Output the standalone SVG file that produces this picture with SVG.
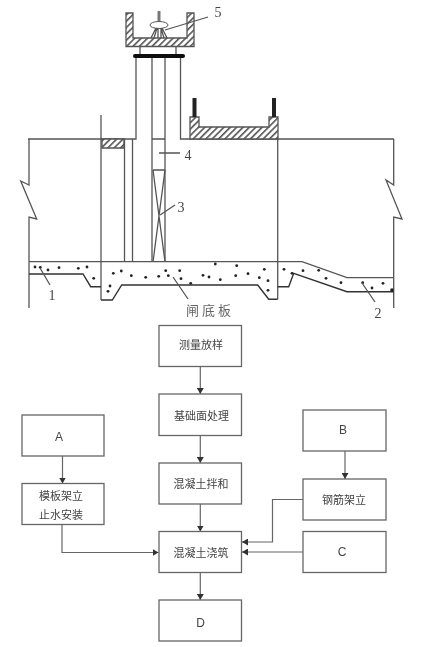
<svg xmlns="http://www.w3.org/2000/svg" width="423" height="647" viewBox="0 0 423 647">
<style>
.l{fill:none;stroke:#555;stroke-width:1.3}
.d{fill:none;stroke:#333;stroke-width:1.4}
.h{fill:url(#hatch);stroke:#555;stroke-width:1.3}
.b{fill:#fff;stroke:#666;stroke-width:1.3}
.c{fill:none;stroke:#666;stroke-width:1.2}
.t{font-family:"Liberation Sans","Noto Sans CJK SC",sans-serif;font-size:11px;fill:#444;text-anchor:middle}
.e{font-size:12px}
.n{font-family:"Liberation Serif",serif;font-size:14px;fill:#444;text-anchor:middle}
.z{font-family:"Noto Sans CJK SC",sans-serif;font-size:13px;fill:#666;letter-spacing:3px}
</style>
<defs>
<pattern id="hatch" width="4.5" height="4.5" patternUnits="userSpaceOnUse" patternTransform="rotate(45)"><rect width="4.5" height="4.5" fill="#fff"/><rect width="1.6" height="4.5" fill="#555"/></pattern>
<marker id="a" markerWidth="7" markerHeight="7" refX="6" refY="3.5" orient="auto" markerUnits="userSpaceOnUse"><path d="M0 0L6 3.500L0 7Z" fill="#333"/></marker>
<filter id="s" filterUnits="userSpaceOnUse" x="0" y="0" width="423" height="647"><feGaussianBlur stdDeviation="0.35"/></filter>
</defs>
<rect width="423" height="647" fill="#fff"/>
<g filter="url(#s)">
<g id="section">
<path class="h" d="M126 13L133 13L133 38L187 38L187 13L194 13L194 46.500L126 46.500Z"/>
<path class="l" d="M140 47V54M176 47V54"/>
<path d="M135 56H183" stroke="#111" stroke-width="4" stroke-linecap="round" fill="none"/>
<path d="M159 11V24" stroke="#777" stroke-width="3" fill="none"/>
<ellipse cx="159" cy="25" rx="9" ry="3.500" fill="#fff" stroke="#555"/>
<path class="l" d="M151 38L156 28M154 38L157 28M158 38V28M161 38V28M164 38L161 28M167 38L162 28"/>
<path class="l" d="M28 139H136V58M180.500 58V139H394M152 58V262M165 58V262M152 139H165"/>
<path class="h" d="M190 139V117L199 117V127H269V117H278V139Z"/>
<path d="M194.500 98V117M274 98V117" stroke="#222" stroke-width="4" fill="none"/>
<path class="l" d="M101 115V300"/>
<path class="h" d="M102 139H124V148H102Z"/>
<path class="l" d="M124.500 139V262M132.500 139V262"/>
<path class="l" d="M153 170H165M153 170L165 262M165 170L153 262"/>
<path class="l" d="M29 139V185L20.700 181L36.700 219L29 217V308"/>
<path class="l" d="M393.700 139V185L386 180L402 219L393.700 217V308"/>
<path class="l" d="M277.700 139V299.300"/>
<path class="l" d="M29 261.700H302L347 277.700H393.700"/>
<path class="d" d="M29 274H83L90.700 286.700H101M101 300H112.300L121.700 285H257.700L268.700 299.300H277.700M277.700 286.700H288.700L293.700 273.300L347 291.700H393.700"/>
<g fill="#222">
<circle cx="35" cy="267" r="1.400"/><circle cx="40.300" cy="267.300" r="1.400"/><circle cx="48" cy="270" r="1.400"/><circle cx="59" cy="267.700" r="1.400"/><circle cx="78.300" cy="268.300" r="1.400"/><circle cx="87" cy="267" r="1.400"/><circle cx="93.700" cy="278.300" r="1.400"/>
<circle cx="113.300" cy="273.300" r="1.400"/><circle cx="121.300" cy="271" r="1.400"/><circle cx="131.300" cy="275.700" r="1.400"/><circle cx="145.700" cy="277.300" r="1.400"/><circle cx="158.700" cy="276.300" r="1.400"/><circle cx="165.700" cy="270.700" r="1.400"/><circle cx="168.300" cy="275.700" r="1.400"/><circle cx="179.700" cy="270.700" r="1.400"/><circle cx="181" cy="278.700" r="1.400"/><circle cx="190.700" cy="283.300" r="1.400"/><circle cx="203" cy="275.300" r="1.400"/><circle cx="209" cy="277" r="1.400"/><circle cx="110" cy="286" r="1.400"/><circle cx="108" cy="291.300" r="1.400"/>
<circle cx="215.300" cy="264" r="1.400"/><circle cx="236.700" cy="265.700" r="1.400"/><circle cx="220.300" cy="279.700" r="1.400"/><circle cx="235.700" cy="275.700" r="1.400"/><circle cx="248" cy="273.700" r="1.400"/><circle cx="259.300" cy="277.700" r="1.400"/><circle cx="264.300" cy="269.300" r="1.400"/><circle cx="268" cy="280.700" r="1.400"/><circle cx="268" cy="290.300" r="1.400"/><circle cx="284" cy="269.300" r="1.400"/><circle cx="292" cy="273.300" r="1.400"/><circle cx="303" cy="270.700" r="1.400"/><circle cx="318.700" cy="270.300" r="1.400"/><circle cx="326" cy="278.300" r="1.400"/><circle cx="341" cy="282.700" r="1.400"/><circle cx="362.700" cy="282.700" r="1.400"/><circle cx="372" cy="288" r="1.400"/><circle cx="383" cy="283.300" r="1.400"/><circle cx="392" cy="290" r="1.800"/>
</g>
<path class="l" d="M165 30L208 17M159 153H180M160 215L175 205M40 268L50 285M362 283L375 302M173 277L188 299"/>
<text class="n" x="218" y="17">5</text>
<text class="n" x="188" y="160">4</text>
<text class="n" x="181" y="212">3</text>
<text class="n" x="52" y="300">1</text>
<text class="n" x="378" y="318">2</text>
<text class="z" x="186" y="315">闸底板</text>
</g>
<g id="connectors">
<path class="c" marker-end="url(#a)" d="M200.300 366.500V394"/>
<path class="c" marker-end="url(#a)" d="M200.300 435.500V463"/>
<path class="c" marker-end="url(#a)" d="M200.300 504V531.500"/>
<path class="c" marker-end="url(#a)" d="M200.300 572.500V600"/>
<path class="c" marker-end="url(#a)" d="M62.500 456V483.500"/>
<path class="c" marker-end="url(#a)" d="M62 524.500V552.500H158.500"/>
<path class="c" marker-end="url(#a)" d="M345 451V479"/>
<path class="c" marker-end="url(#a)" d="M303 499.500H272.500V542H242"/>
<path class="c" marker-end="url(#a)" d="M303 552H242"/>
</g>
<g id="n1"><rect class="b" x="159" y="325.500" width="82.500" height="41"/><text class="t" x="201" y="349">测量放样</text></g>
<g id="n2"><rect class="b" x="159" y="394" width="82.500" height="41.500"/><text class="t" x="201.500" y="420">基础面处理</text></g>
<g id="n3"><rect class="b" x="159" y="463" width="82.500" height="41"/><text class="t" x="201" y="488">混凝土拌和</text></g>
<g id="n4"><rect class="b" x="159" y="531.500" width="82.500" height="41"/><text class="t" x="201" y="557">混凝土浇筑</text></g>
<g id="nD"><rect class="b" x="159" y="600" width="82.500" height="41"/><text class="t e" x="200.500" y="627">D</text></g>
<g id="nA"><rect class="b" x="22" y="415" width="82" height="41"/><text class="t e" x="59" y="441">A</text></g>
<g id="n5"><rect class="b" x="22" y="483.500" width="82" height="41"/><text class="t" x="61" y="500">模板架立</text><text class="t" x="61" y="519">止水安装</text></g>
<g id="nB"><rect class="b" x="303" y="410" width="83" height="41"/><text class="t e" x="343" y="434">B</text></g>
<g id="n6"><rect class="b" x="303" y="479" width="83" height="41"/><text class="t" x="344" y="504">钢筋架立</text></g>
<g id="nC"><rect class="b" x="303" y="531.500" width="83" height="41"/><text class="t e" x="342" y="556">C</text></g>
</g>
</svg>
